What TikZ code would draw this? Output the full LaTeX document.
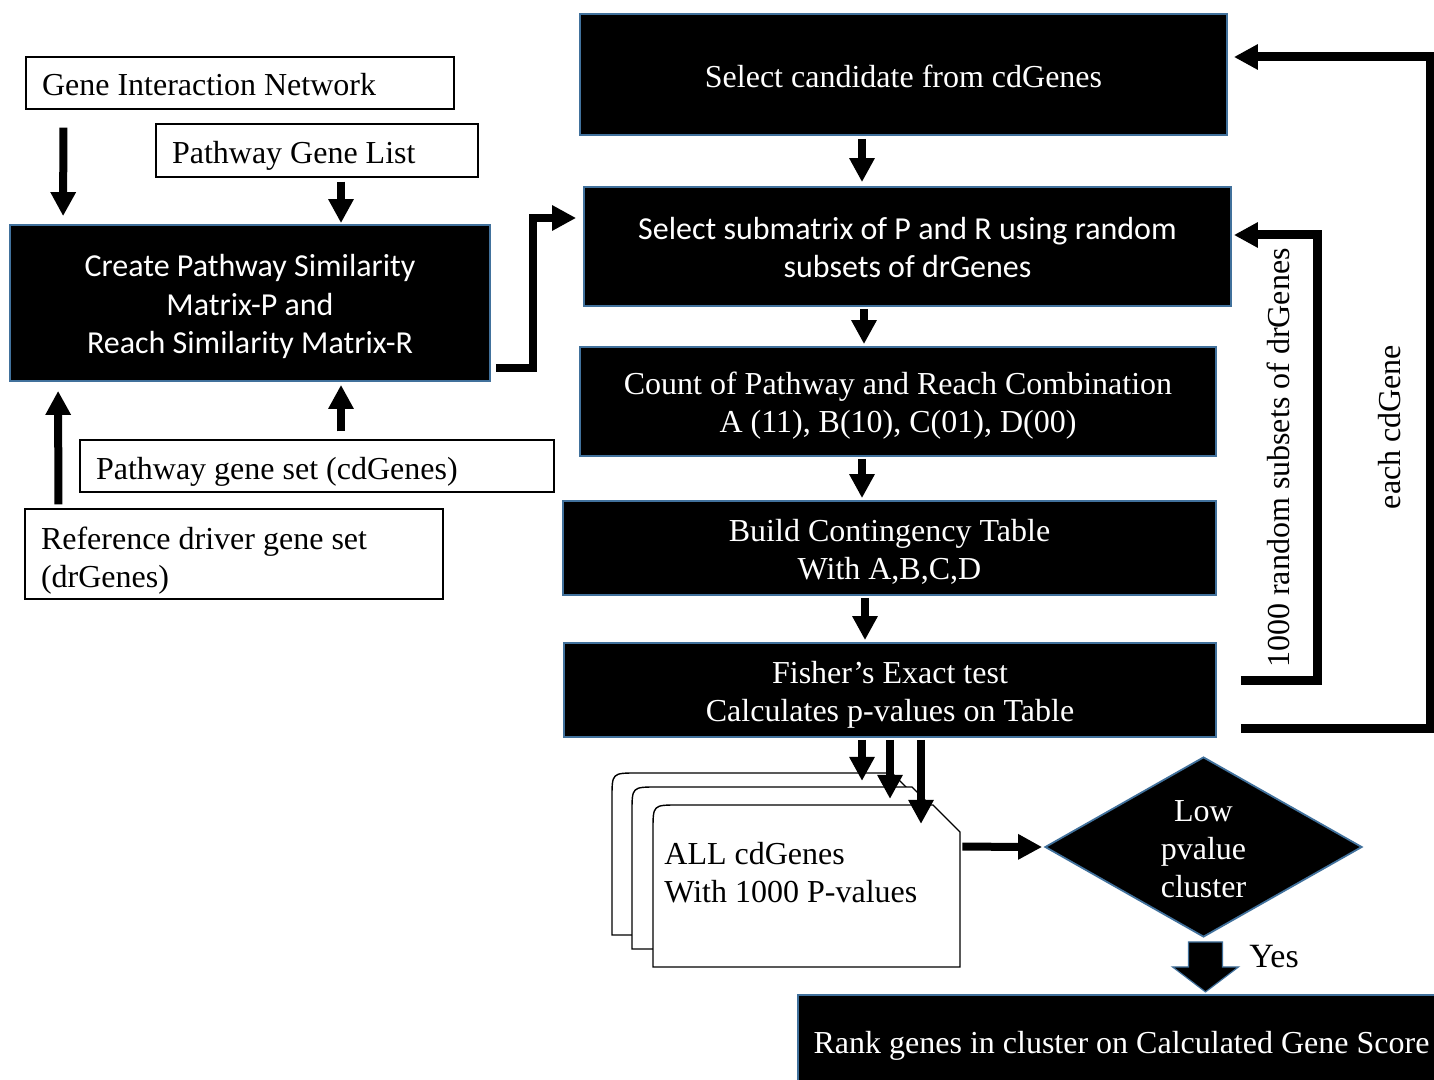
\documentclass[tikz,border=0pt]{standalone}
\usepackage{fontspec}
\setmainfont{Liberation Serif}
\newfontfamily\calib{Carlito}
\usetikzlibrary{arrows.meta,shapes.geometric,calc}
\definecolor{bordblue}{RGB}{65,113,156}
\newcommand\dnc[2]{\raisebox{-#1}[\height][\depth]{\begin{tabular}{@{}c@{}}#2\end{tabular}}}
\newcommand\dnl[2]{\raisebox{-#1}[\height][\depth]{\begin{tabular}{@{}l@{}}#2\end{tabular}}}
\begin{document}
\begin{tikzpicture}[x=0.5pt,y=-0.5pt,
  every node/.style={font=\rmfamily\fontsize{16}{19}\selectfont},
  wbox/.style={draw=black, line width=0.6pt, fill=white, inner xsep=8pt, inner ysep=0pt, align=flush left},
  bbox/.style={draw=bordblue, line width=0.9pt, fill=black, text=white, inner sep=0pt},
  arr/.style={line width=4pt, -{Triangle[width=12pt,length=12pt]}},
  docsh/.style={draw=black, line width=0.7pt, fill=white},
  lbl/.style={inner sep=0pt}
]
\useasboundingbox (0,0) rectangle (1434,1080);
\fill[white] (0,0) rectangle (1434,1080);

% left inputs
\node[wbox, minimum width=214pt, minimum height=26pt, text width=198pt] (gin) at (240,83) {\dnl{2.5pt}{Gene Interaction Network}};
\node[wbox, minimum width=161pt, minimum height=26.5pt, text width=145pt] (pgl) at (317,150.5) {\dnl{2.5pt}{Pathway Gene List}};
\node[bbox, minimum width=240pt, minimum height=78pt, font=\calib\fontsize{16}{19.3}\selectfont] (create) at (250,303) {\dnc{2.25pt}{Create Pathway Similarity\\Matrix-P and\\Reach Similarity Matrix-R}};
\node[wbox, minimum width=237pt, minimum height=26pt, text width=221pt] (pgs) at (317,466) {\dnl{3pt}{Pathway gene set (cdGenes)}};
\node[wbox, minimum width=209pt, minimum height=45pt, text width=193pt] (ref) at (234,554) {\dnl{3.5pt}{Reference driver gene set\\(drGenes)}};

% right column
\node[bbox, minimum width=323.5pt, minimum height=60.5pt] (sel) at (903.5,74.5) {\dnc{2.5pt}{Select candidate from cdGenes}};
\node[bbox, minimum width=323.5pt, minimum height=59.5pt, font=\calib\fontsize{16}{19}\selectfont] (sub) at (907.5,246.5) {\dnc{2pt}{Select submatrix of P and R using random\\subsets of drGenes}};
\node[bbox, minimum width=318pt, minimum height=54.5pt] (cnt) at (898,401.5) {\dnc{2.25pt}{Count of Pathway and Reach Combination\\A (11), B(10), C(01), D(00)}};
\node[bbox, minimum width=326.5pt, minimum height=47pt] (bld) at (889.5,548) {\dnc{2.5pt}{Build Contingency Table\\With A,B,C,D}};
\node[bbox, minimum width=326pt, minimum height=47pt] (fis) at (890,690) {\dnc{2.25pt}{Fisher's Exact test\\Calculates p-values on Table}};

% document stack
\draw[docsh, shift={(-41,-32)}] (653,967) -- (653,830) .. controls (653,805) .. (678,805) -- (933,805) -- (960,832) -- (960,967) -- cycle;
\draw[docsh, shift={(-21,-18)}] (653,967) -- (653,830) .. controls (653,805) .. (678,805) -- (933,805) -- (960,832) -- (960,967) -- cycle;
\draw[docsh] (653,967) -- (653,830) .. controls (653,805) .. (678,805) -- (933,805) -- (960,832) -- (960,967) -- cycle;
\node[minimum width=153.5pt, minimum height=81pt, inner sep=0pt] (doc) at (806.5,886) {};
\node[anchor=west, align=left, inner sep=0pt] (doctext) at (664,872.5) {ALL cdGenes\\With 1000 P-values};

% decision
\node[diamond, aspect=1.76, draw=bordblue, fill=black, text=white, line width=0.9pt, minimum width=158.5pt, minimum height=90pt, inner sep=0pt] (dia) at (1203.5,847) {\dnc{2.5pt}{Low\\pvalue\\cluster}};
\node[bbox, minimum width=323.5pt, minimum height=45pt] (rank) at (1121.5,1040) {\dnc{3pt}{Rank genes in cluster on Calculated Gene Score}};

% Yes block arrow
\filldraw[fill=black, draw=bordblue, line width=0.6pt, shift={(dia.south)}] (-15,4) -- (19,4) -- (19,29) -- (35,29) -- (2,54) -- (-31,29) -- (-15,29) -- cycle;
\node[lbl, font=\rmfamily\fontsize{17}{20}\selectfont] (yes) at (1274,957) {Yes};

% left arrows
\draw[arr] ($(gin.south west)+(38,18)$) -- ($(create.north west)+(54,-8)$);
\draw[arr] ($(pgl.south)+(24,4)$) -- ($(create.north)+(91,-1)$);
\draw[arr] ($(ref.north west)+(34,-4)$) -- ($(create.south west)+(49,9)$);
\draw[arr] ($(pgs.north)+(24,-8)$) -- ($(create.south)+(91,3)$);
\draw[arr] ($(create.east)+(5,65)$) -- ++(37,0) |- ($(sub.west)+(-7,-28.5)$);

% column arrows
\draw[arr] ($(sel.south)+(-41.5,3)$) -- ($(sub.north)+(-45.5,-4)$);
\draw[arr] ($(sub.south)+(-43.5,2)$) -- ($(cnt.north)+(-34,-2)$);
\draw[arr] ($(cnt.south)+(-36,2)$) -- ($(bld.north)+(-27.5,-2)$);
\draw[arr] ($(bld.south)+(-24.5,2)$) -- ($(fis.north)+(-25,-2)$);

% into documents
\draw[arr] ($(fis.south)+(-28,2)$) -- ($(fis.south)+(-28,43)$);
\draw[arr] ($(fis.south)+(0,2)$) -- ($(fis.south)+(0,61)$);
\draw[arr] ($(fis.south)+(31,2)$) -- ($(fis.south)+(31,86)$);

% doc to diamond
\draw[arr] ($(doc.north east)+(2,42)$) -- ($(dia.west)+(-2,0)$);

% loops
\draw[arr, line width=4.5pt] ($(fis.east)+(24,-10)$) -- ++(77,0) |- ($(sub.east)+(2,-11.5)$);
\draw[arr, line width=4.5pt] ($(fis.east)+(24,38)$) -- ++(190,0) |- ($(sel.east)+(6,-17.5)$);
\node[lbl, rotate=90] (l1) at (1278,458) {1000 random subsets of drGenes};
\node[lbl, rotate=90] (l2) at (1390,427) {each cdGene};
\end{tikzpicture}
\end{document}
